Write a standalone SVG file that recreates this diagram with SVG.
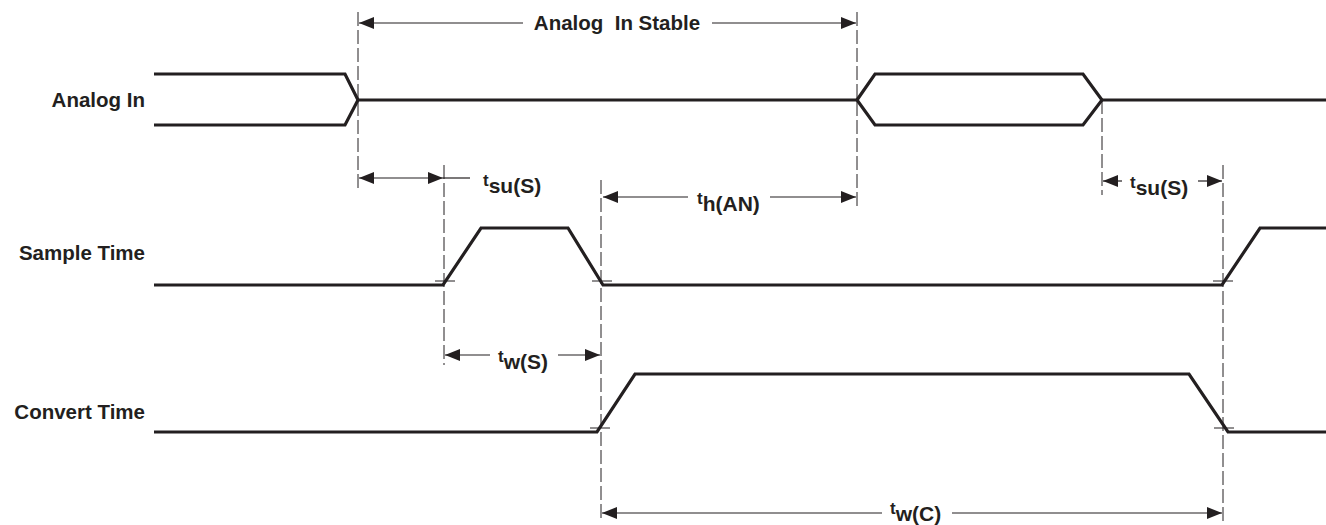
<svg xmlns="http://www.w3.org/2000/svg" width="1326" height="525" viewBox="0 0 1326 525">
<style>
.sig{fill:none;stroke:#231f20;stroke-width:3.2;stroke-linejoin:miter}
.dash{fill:none;stroke:#231f20;stroke-width:1;stroke-dasharray:14,4}
.dim{fill:none;stroke:#231f20;stroke-width:1.2}
.tick{stroke:#231f20;stroke-width:1}
.lbl{font-family:"Liberation Sans",Arial,sans-serif;font-weight:bold;font-size:20.5px;fill:#231f20}
.tl{font-family:"Liberation Sans",Arial,sans-serif;font-weight:bold;font-size:17px;fill:#231f20}
.sub{font-size:21px}
</style>
<defs>
<marker id="ah" viewBox="0 0 15 12" refX="15" refY="6" markerWidth="15" markerHeight="12" markerUnits="userSpaceOnUse" orient="auto-start-reverse">
<path d="M0,0 L15,6 L0,12 Z" fill="#231f20"/>
</marker>
</defs>
<rect width="1326" height="525" fill="#fff"/>
<g id="labels">
<text class="lbl" x="145" y="107" text-anchor="end">Analog In</text>
<text class="lbl" x="145" y="260" text-anchor="end">Sample Time</text>
<text class="lbl" x="145" y="419" text-anchor="end">Convert Time</text>
</g>
<g id="analog-in">
<path class="sig" d="M154,74 L345,74 L358,100 L345,125 L154,125"/>
<path class="sig" d="M358,100 L857,100"/>
<path class="sig" d="M857,100 L875,74 L1083,74 L1102,100 L1083,125 L875,125 Z"/>
<path class="sig" d="M1102,100 L1326,100"/>
</g>
<g id="sample-time">
<path class="sig" d="M154,285 L443,285 L481,228 L568,228 L603,285 L1222,285 L1260,228 L1326,228"/>
</g>
<g id="convert-time">
<path class="sig" d="M154,432 L597,432 L635,374 L1189,374 L1228,432 L1326,432"/>
</g>
<g id="connectors">
<line class="dash" x1="358" y1="12" x2="358" y2="190"/>
<line class="dash" x1="857" y1="12" x2="857" y2="210"/>
<line class="dash" x1="444" y1="165" x2="444" y2="365"/>
<line class="dash" x1="601" y1="180" x2="601" y2="522"/>
<line class="dash" x1="1102" y1="100" x2="1102" y2="195"/>
<line class="dash" x1="1223" y1="165" x2="1223" y2="522"/>
<line class="tick" x1="435" y1="281" x2="455" y2="281"/>
<line class="tick" x1="592" y1="281" x2="612" y2="281"/>
<line class="tick" x1="1213" y1="281" x2="1233" y2="281"/>
<line class="tick" x1="590" y1="428" x2="610" y2="428"/>
<line class="tick" x1="1214" y1="428" x2="1234" y2="428"/>
<line class="dim" x1="523" y1="23" x2="359" y2="23" marker-end="url(#ah)"/>
<line class="dim" x1="712" y1="23" x2="856" y2="23" marker-end="url(#ah)"/>
<line class="dim" x1="359" y1="178" x2="443" y2="178" marker-start="url(#ah)" marker-end="url(#ah)"/>
<line class="dim" x1="443" y1="178" x2="470" y2="178"/>
<line class="dim" x1="688" y1="197" x2="603" y2="197" marker-end="url(#ah)"/>
<line class="dim" x1="770" y1="197" x2="856" y2="197" marker-end="url(#ah)"/>
<line class="dim" x1="1122" y1="181" x2="1103" y2="181" marker-end="url(#ah)"/>
<line class="dim" x1="1198" y1="181" x2="1222" y2="181" marker-end="url(#ah)"/>
<line class="dim" x1="490" y1="355" x2="445" y2="355" marker-end="url(#ah)"/>
<line class="dim" x1="558" y1="355" x2="600" y2="355" marker-end="url(#ah)"/>
<line class="dim" x1="882" y1="513" x2="602" y2="513" marker-end="url(#ah)"/>
<line class="dim" x1="952" y1="513" x2="1222" y2="513" marker-end="url(#ah)"/>
</g>
<g id="dim-labels">
<text class="lbl" x="617" y="30" text-anchor="middle" xml:space="preserve">Analog  In Stable</text>
<text class="tl" x="483" y="186">t<tspan class="sub" dy="7">su(S)</tspan></text>
<text class="tl" x="697" y="204">t<tspan class="sub" dy="7">h(AN)</tspan></text>
<text class="tl" x="1130" y="188">t<tspan class="sub" dy="7">su(S)</tspan></text>
<text class="tl" x="498" y="362">t<tspan class="sub" dy="7">w(S)</tspan></text>
<text class="tl" x="890" y="514">t<tspan class="sub" dy="6.5">w(C)</tspan></text>
</g>
</svg>
